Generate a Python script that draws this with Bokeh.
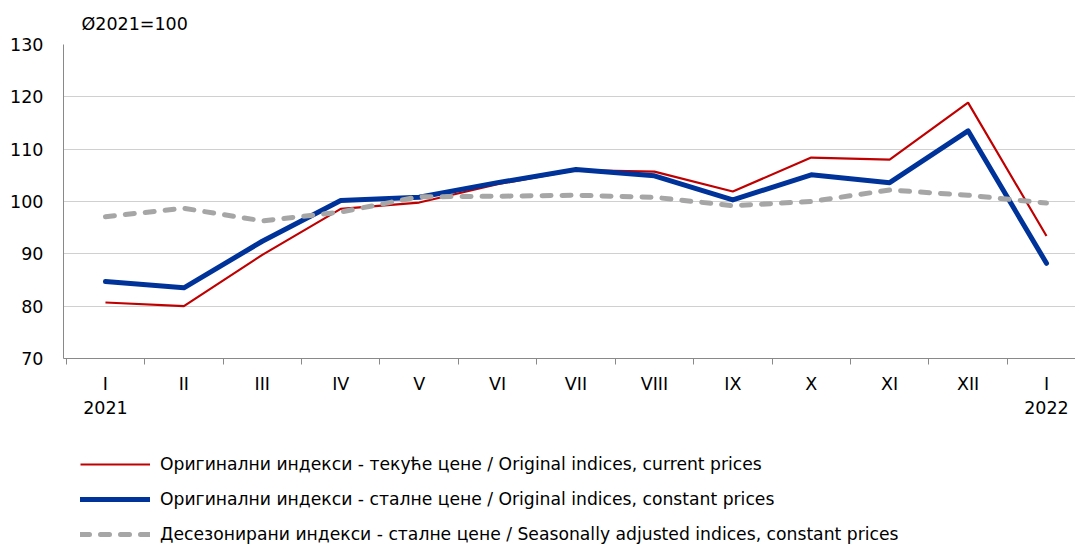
from bokeh.plotting import figure
from bokeh.layouts import column
from bokeh.models import Range1d, FixedTicker, Legend, LegendItem
from bokeh.embed import file_html
from bokeh.resources import INLINE

months = ["I", "II", "III", "IV", "V", "VI", "VII", "VIII", "IX", "X", "XI", "XII", "I"]
years = {0: "2021", 12: "2022"}
current_prices = [80.7, 80.0, 89.8, 98.6, 99.8, 103.3, 106.0, 105.7, 101.9, 108.4, 108.0, 118.9, 93.4]
constant_prices = [84.7, 83.5, 92.4, 100.2, 100.8, 103.6, 106.1, 104.9, 100.3, 105.1, 103.6, 113.5, 88.2]
seasonally_adj = [97.1, 98.7, 96.3, 98.0, 100.9, 101.0, 101.2, 100.8, 99.2, 100.0, 102.2, 101.2, 99.7]
y_ticks = [70, 80, 90, 100, 110, 120, 130]
base_label = "Ø2021=100"
legend_labels = [
    "Оригинални индекси - текуће цене / Original indices, current prices",
    "Оригинални индекси - сталне цене / Original indices, constant prices",
    "Десезонирани индекси - сталне цене / Seasonally adjusted indices, constant prices",
]

FONT = "DejaVu Sans"
FS = "17.5px"
LFS = "17.2px"
x = list(range(len(months)))

styles = [
    dict(line_color="#C00000", line_width=2.2),
    dict(line_color="#003399", line_width=5, line_join="round", line_cap="round"),
    dict(line_color="#A6A6A6", line_width=5, line_dash="9 11", line_cap="round", line_join="round"),
]
series = [current_prices, constant_prices, seasonally_adj]

p = figure(width=1075, height=430, output_backend="svg", toolbar_location=None,
           x_range=Range1d(-0.535, 12.37), y_range=Range1d(70, 130),
           min_border_left=63, min_border_right=0, min_border_top=44, min_border_bottom=72,
           title=base_label)
p.outline_line_color = None
p.background_fill_color = "white"

p.title.text_font = FONT
p.title.text_font_size = FS
p.title.text_font_style = "normal"
p.title.text_color = "#000000"
p.title.align = "left"
p.title.offset = 18
p.title.standoff = 21

for s, st in zip(series, styles):
    p.line(x, s, **st)

p.xgrid.visible = False
p.ygrid.grid_line_color = "#D0D0D0"
p.ygrid.grid_line_width = 1

p.yaxis.ticker = FixedTicker(ticks=y_ticks)
p.yaxis.major_tick_line_color = None
p.yaxis.minor_tick_line_color = None
p.yaxis.axis_line_color = "#898989"
p.yaxis.major_label_text_font = FONT
p.yaxis.major_label_text_font_size = FS
p.yaxis.major_label_text_color = "#000000"
p.yaxis.major_label_standoff = 14

p.xaxis.ticker = FixedTicker(ticks=x, minor_ticks=[i - 0.5 for i in range(len(months) + 1)])
p.xaxis.major_label_overrides = {i: (m + "\n" + years[i] if i in years else m) for i, m in enumerate(months)}
p.xaxis.major_tick_line_color = None
p.xaxis.minor_tick_in = 0
p.xaxis.minor_tick_out = 6
p.xaxis.minor_tick_line_color = "#898989"
p.xaxis.axis_line_color = "#898989"
p.xaxis.major_label_text_font = FONT
p.xaxis.major_label_text_font_size = FS
p.xaxis.major_label_text_color = "#000000"
p.xaxis.major_label_standoff = 9

# legend strip below the chart (its lines lie outside its visible range)
lf = figure(width=1075, height=114, output_backend="svg", toolbar_location=None,
            x_range=Range1d(100, 101), y_range=Range1d(0, 1),
            min_border_left=0, min_border_right=0, min_border_top=0, min_border_bottom=0)
lf.axis.visible = False
lf.grid.visible = False
lf.outline_line_color = None
lrs = [lf.line(x, s, **st) for s, st in zip(series, styles)]

legend = Legend(items=[LegendItem(label=lab, renderers=[r]) for lab, r in zip(legend_labels, lrs)],
                location=(17, 0), orientation="vertical",
                glyph_width=70, glyph_height=20, label_height=20, spacing=15,
                label_standoff=10, padding=0, margin=0,
                label_text_font=FONT, label_text_font_size=LFS, label_text_color="#000000",
                background_fill_alpha=0, border_line_alpha=0)
lf.add_layout(legend, "center")

layout = column(p, lf, spacing=0)
open("out.html", "w").write(file_html(layout, INLINE))
